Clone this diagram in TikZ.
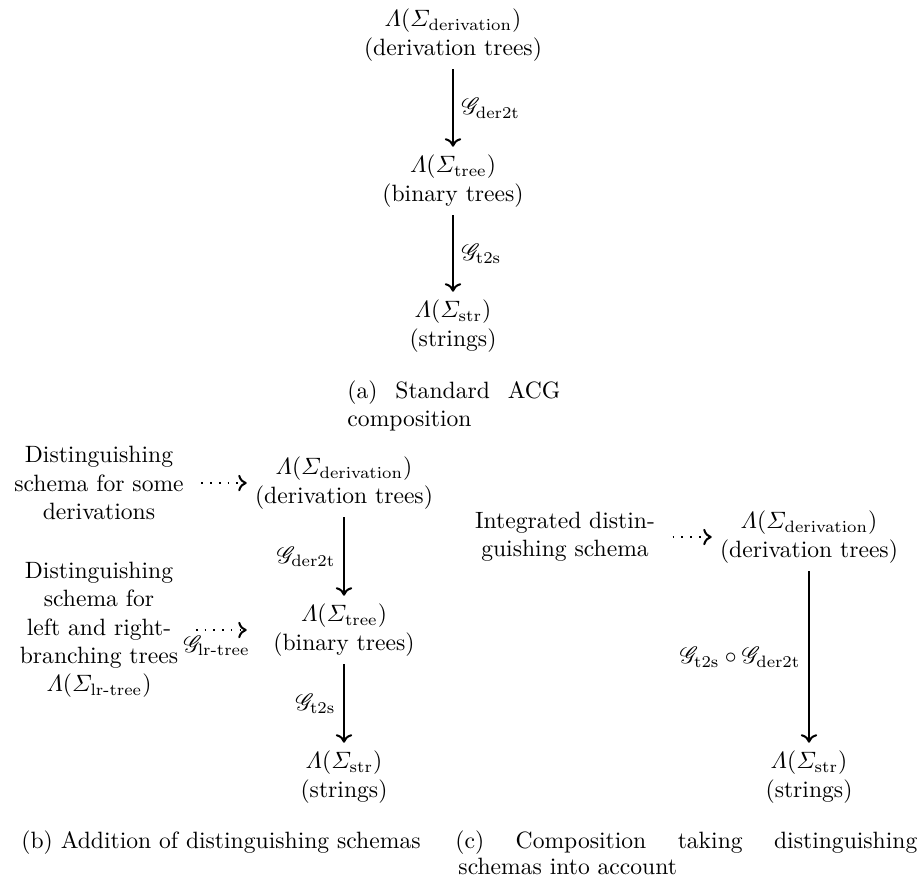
\documentclass[tikz,border=0pt]{standalone}
\usepackage{amsmath}
\usepackage{mathrsfs}
\usetikzlibrary{arrows.meta}
\begin{document}
\begin{tikzpicture}[x=0.4237pt,y=-0.4237pt,
  term/.style={align=center},
  arr/.style={line width=0.55pt,-{Computer Modern Rightarrow[length=3.6pt,width=7pt,line width=0.85pt]}},
  dotarr/.style={arr,line width=0.7pt,dash pattern=on 0.7pt off 3pt,shorten <=4pt},
  captext/.style={inner sep=0pt,anchor=base west}]
\path[use as bounding box] (0,0) rectangle (919,884);
% (a)
\node[term] (ad) at (453,35) {$\varLambda(\varSigma_{\mathrm{derivation}})$\\(derivation trees)};
\node[term] (at) at (453,181) {$\varLambda(\varSigma_{\mathrm{tree}})$\\(binary trees)};
\node[term] (as) at (453,326) {$\varLambda(\varSigma_{\mathrm{str}})$\\(strings)};
\draw[arr] (ad) -- node[right] (la1) {$\mathscr{G}_{\mathrm{der2t}}$} (at);
\draw[arr] (at) -- node[right] (la2) {$\mathscr{G}_{\mathrm{t2s}}$} (as);
\node[captext] (capa1) at (347,398) {\makebox[90.2pt][s]{(a) Standard ACG}};
\node[captext] (capa2) at (347,426) {composition};
% (b)
\node[term] (l1) at (99,483) {Distinguishing\\schema for some\\derivations};
\node[term] (bd) at (344,483) {$\varLambda(\varSigma_{\mathrm{derivation}})$\\(derivation trees)};
\node[term] (bt) at (344,630) {$\varLambda(\varSigma_{\mathrm{tree}})$\\(binary trees)};
\node[term] (bs) at (344,777) {$\varLambda(\varSigma_{\mathrm{str}})$\\(strings)};
\node[term] (l2) at (99,630) {Distinguishing\\schema for\\left and right-\\branching trees\\$\varLambda(\varSigma_{\text{lr-tree}})$};
\coordinate (btin) at (bd.west |- bt);
\draw[dotarr] (l1) -- (bd);
\draw[dotarr] (l2) -- node[below,inner sep=2pt] (lb0) {$\mathscr{G}_{\text{lr-tree}}$} (btin);
\draw[arr] (bd) -- node[left] (lb1) {$\mathscr{G}_{\mathrm{der2t}}$} (bt);
\draw[arr] (bt) -- node[left] (lb2) {$\mathscr{G}_{\mathrm{t2s}}$} (bs);
\node[captext,anchor=base] (capb) at (221,848) {(b) Addition of distinguishing schemas};
% (c)
\node[term] (l3) at (565,537) {Integrated distin-\\guishing schema};
\node[term] (cd) at (809,537) {$\varLambda(\varSigma_{\mathrm{derivation}})$\\(derivation trees)};
\node[term] (cs) at (809,777) {$\varLambda(\varSigma_{\mathrm{str}})$\\(strings)};
\draw[dotarr] (l3) -- (cd);
\draw[arr] (cd) -- node[left] (lc1) {$\mathscr{G}_{\mathrm{t2s}}\circ\mathscr{G}_{\mathrm{der2t}}$} (cs);
\node[captext] (capc1) at (455,848) {\makebox[195.7pt][s]{(c) Composition taking distinguishing}};
\node[captext] (capc2) at (458,874) {schemas into account};
\end{tikzpicture}
\end{document}
